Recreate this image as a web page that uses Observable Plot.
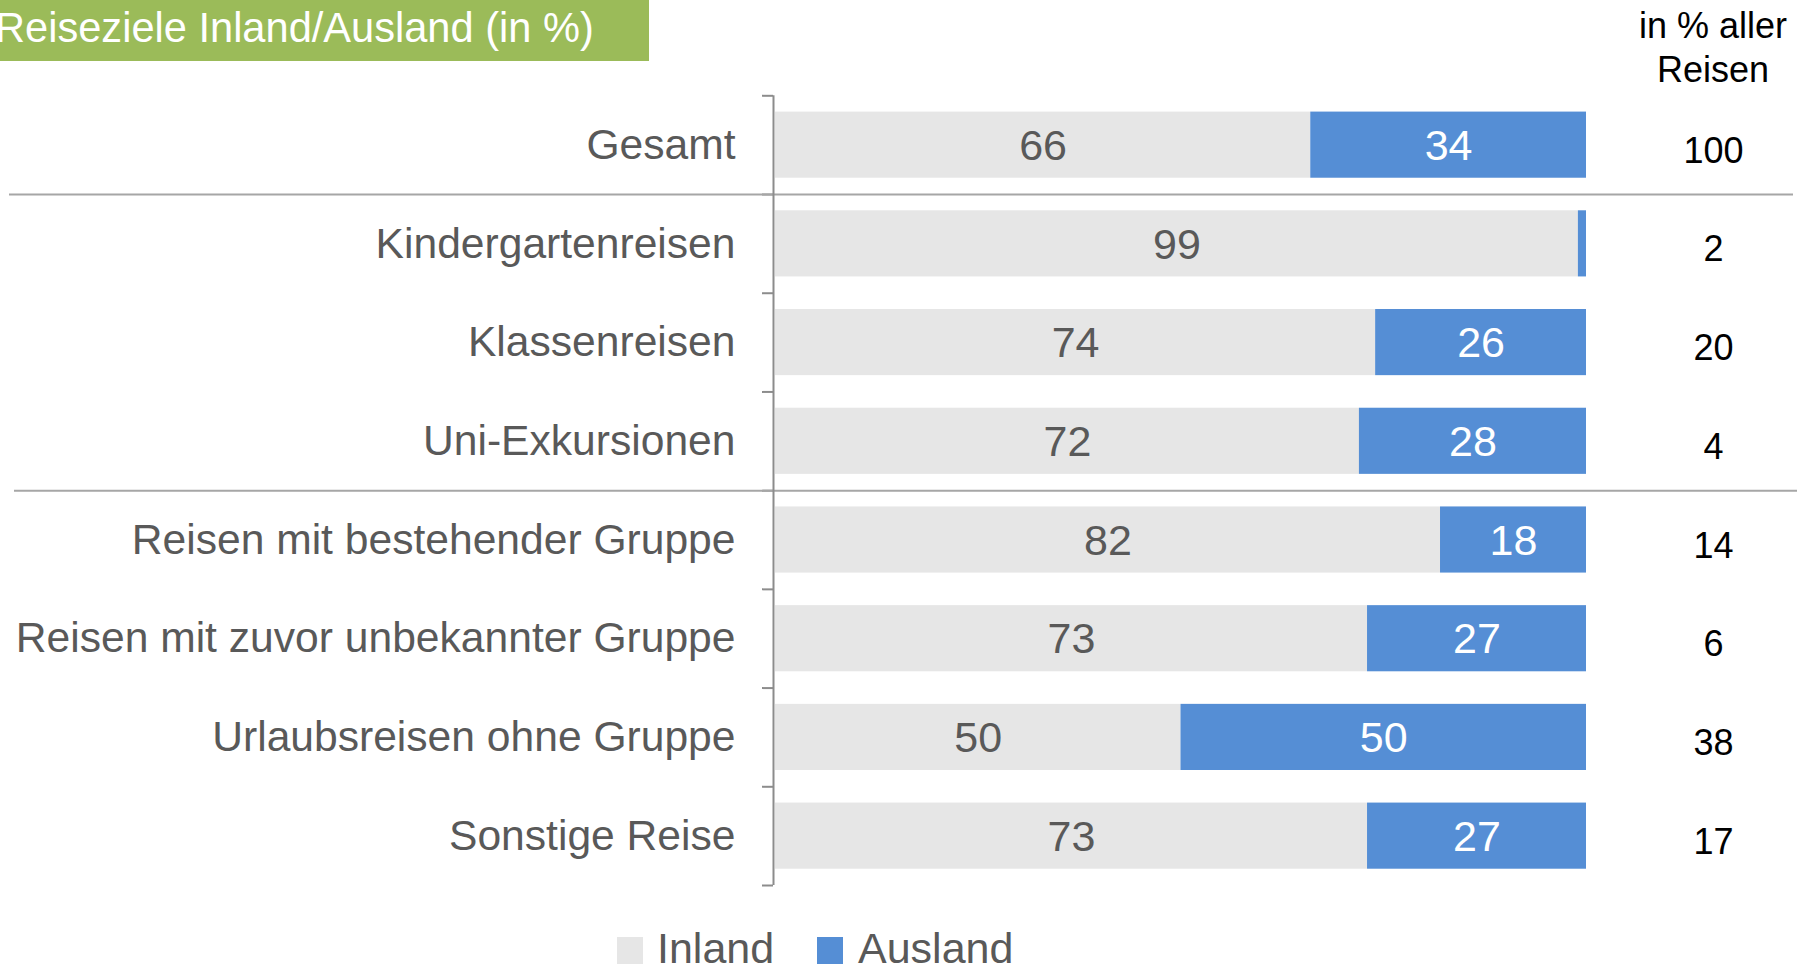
<!DOCTYPE html>
<html>
<head>
<meta charset="utf-8">
<script src="https://cdn.jsdelivr.net/npm/d3@7"></script>
<script src="https://cdn.jsdelivr.net/npm/@observablehq/plot@0.6"></script>
<style>
  html, body { margin: 0; padding: 0; background: #fff; overflow: hidden; }
  body { width: 1806px; height: 965px; position: relative; font-family: "Liberation Sans", Arial, sans-serif; }
  #chart { position: absolute; left: 0; top: 0; }
  #title { position: absolute; left: 0; top: 0; width: 649px; height: 61px; background: #9BBB59; overflow: hidden; }
  #title span { position: absolute; left: -5px; top: 7px; font-size: 41.6px; line-height: 42px; color: #fff; white-space: nowrap; }
  #header { position: absolute; left: 1613px; width: 200px; top: 4px; text-align: center; font-size: 36px; line-height: 44px; color: #000; }
  .lg-sw { position: absolute; width: 26px; height: 27px; top: 937px; }
  .lg-tx { position: absolute; top: 927px; font-size: 43px; line-height: 42px; color: #595959; white-space: nowrap; }
</style>
</head>
<body>
<div id="chart"></div>
<div id="title"></div>
<div id="header"></div>
<div id="legend"></div>
<script>
// ---- data ----
const titleText = "Reiseziele Inland/Ausland (in %)";
const headerLines = ["in % aller", "Reisen"];
const seriesNames = ["Inland", "Ausland"];
const seriesColors = ["#E6E6E6", "#558ED5"];
const categories = [
  "Gesamt",
  "Kindergartenreisen",
  "Klassenreisen",
  "Uni-Exkursionen",
  "Reisen mit bestehender Gruppe",
  "Reisen mit zuvor unbekannter Gruppe",
  "Urlaubsreisen ohne Gruppe",
  "Sonstige Reise"
];
const inland  = [66, 99, 74, 72, 82, 73, 50, 73];
const ausland = [34,  1, 26, 28, 18, 27, 50, 27];
const share   = [100, 2, 20,  4, 14,  6, 38, 17];
const groupStarts = ["Kindergartenreisen", "Reisen mit bestehender Gruppe"];

// ---- build tables ----
const long = [];
categories.forEach((c, i) => {
  long.push({cat: c, series: "Inland", value: inland[i]});
  long.push({cat: c, series: "Ausland", value: ausland[i]});
});
const rows = categories.map((c, i) => ({cat: c, share: share[i]}));

const W = 1806, H = 965;
const mL = 775, mR = 220, mT = 95.3, mB = 80;
const step = (H - mT - mB) / categories.length;
const half = step / 2;
const plotW = W - mL - mR;

const chart = Plot.plot({
  width: W,
  height: H,
  marginLeft: mL,
  marginRight: mR,
  marginTop: mT,
  marginBottom: mB,
  style: {fontFamily: "'Liberation Sans', Arial, sans-serif", background: "transparent", overflow: "visible"},
  x: {domain: [0, 100], axis: null},
  y: {domain: categories, axis: null, paddingInner: 0.33, paddingOuter: 0.165, round: false},
  color: {domain: seriesNames, range: seriesColors},
  marks: [
    Plot.barX(long, {x: "value", y: "cat", fill: "series"}),
    // value labels
    Plot.text(long, Plot.stackX({
      x: "value", y: "cat", z: "series",
      text: d => d.series === "Inland" ? String(d.value) : "",
      fill: "#595959", fontSize: 43, dy: 1
    })),
    Plot.text(long, Plot.stackX({
      x: "value", y: "cat", z: "series",
      text: d => d.series === "Ausland" && d.value >= 5 ? String(d.value) : "",
      fill: "#ffffff", fontSize: 43, dy: 1
    })),
    // category labels
    Plot.text(categories, {
      y: d => d, frameAnchor: "left", dx: -40, textAnchor: "end",
      fontSize: 42.6, fill: "#595959", dy: 0
    }),
    // share column
    Plot.text(rows, {
      y: "cat", text: d => String(d.share), frameAnchor: "right", textAnchor: "middle",
      dx: 127, dy: 6, fontSize: 36, fill: "#000000"
    }),
    // small ticks at band boundaries
    Plot.ruleY(categories, {
      y: d => d, dy: -half, insetLeft: -13, insetRight: plotW + 2,
      stroke: "#8C8C8C", strokeWidth: 2
    }),
    Plot.ruleY(categories.slice(-1), {
      y: d => d, dy: half, insetLeft: -13, insetRight: plotW + 2,
      stroke: "#8C8C8C", strokeWidth: 2
    }),
    // group separators
    Plot.ruleY(groupStarts.slice(0, 1), {
      y: d => d, dy: -half, insetLeft: -(mL - 9), insetRight: -207,
      stroke: "#A6A6A6", strokeWidth: 2
    }),
    Plot.ruleY(groupStarts.slice(1), {
      y: d => d, dy: -half, insetLeft: -(mL - 14), insetRight: -211,
      stroke: "#A6A6A6", strokeWidth: 2
    }),
    // vertical axis line
    Plot.ruleX([0], {dx: -2, stroke: "#8C8C8C", strokeWidth: 2})
  ]
});
document.getElementById("chart").appendChild(chart);

// title
const t = document.createElement("span");
t.textContent = titleText;
document.getElementById("title").appendChild(t);

// header
document.getElementById("header").innerHTML = headerLines.map(s => `<div>${s}</div>`).join("");

// legend
const legend = document.getElementById("legend");
const swX = [617, 817];
const txX = [657, 858];
seriesNames.forEach((name, i) => {
  const sw = document.createElement("div");
  sw.className = "lg-sw";
  sw.style.left = swX[i] + "px";
  sw.style.background = seriesColors[i];
  legend.appendChild(sw);
  const tx = document.createElement("div");
  tx.className = "lg-tx";
  tx.style.left = txX[i] + "px";
  tx.textContent = name;
  legend.appendChild(tx);
});
</script>
</body>
</html>
